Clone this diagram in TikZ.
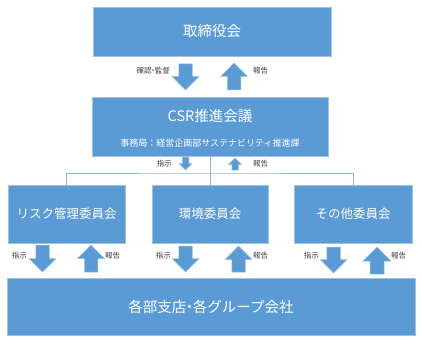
\documentclass[tikz,border=0pt]{standalone}
\usepackage{fontspec}
\setmainfont{Noto Sans CJK JP}
\definecolor{boxblue}{HTML}{5B9BD5}
\definecolor{boxedge}{HTML}{9CC2E5}
\definecolor{connblue}{HTML}{8FB4DE}
\definecolor{lbl}{HTML}{404040}
\tikzset{
  orgbox/.style={rectangle, fill=boxblue, draw=boxedge, line width=0.8pt, inner sep=0pt},
  boxtext/.style={text=white, inner sep=0pt, anchor=center},
  smalllbl/.style={text=lbl, font=\fontsize{7.5}{9}\selectfont, inner sep=0pt},
  blkarrow/.style={fill=boxblue, draw=boxedge, line width=0.5pt},
  conn/.style={draw=connblue, line width=0.7pt}
}
\newcommand{\NDot}{\kern-0.28em・\kern-0.28em}
% #1 x centre, #2 y start (tail), #3 y tip, #4 half width
\newcommand{\ArrDown}[4]{\filldraw[blkarrow] ({#1-#4/2},#2) -- ({#1+#4/2},#2) -- ({#1+#4/2},{#3-#4}) -- ({#1+#4},{#3-#4}) -- (#1,#3) -- ({#1-#4},{#3-#4}) -- ({#1-#4/2},{#3-#4}) -- cycle;}
\newcommand{\ArrUp}[4]{\filldraw[blkarrow] ({#1-#4/2},#2) -- ({#1+#4/2},#2) -- ({#1+#4/2},{#3+#4}) -- ({#1+#4},{#3+#4}) -- (#1,#3) -- ({#1-#4},{#3+#4}) -- ({#1-#4/2},{#3+#4}) -- cycle;}
\begin{document}
\begin{tikzpicture}[x=1pt,y=-1pt]
\useasboundingbox[fill=white] (0,0) rectangle (422,342);
% boxes
\node[orgbox, minimum width=238pt, minimum height=49pt] (board) at (212,31.5) {};
\node[boxtext, font=\fontsize{14.5}{16}\selectfont] (boardt) at (board.center) {取締役会};
\node[orgbox, minimum width=236pt, minimum height=59pt] (csr) at (210,126.5) {};
\node[boxtext, font=\fontsize{14.5}{16}\selectfont] (csrt) at (210,116) {CSR推進会議};
\node[boxtext, font=\fontsize{9}{11}\selectfont] (csrs) at (210,143) {事務局：経営企画部サステナビリティ推進課};
\node[orgbox, minimum width=117pt, minimum height=58pt] (risk) at (66.5,214) {};
\node[boxtext, font=\fontsize{12.5}{14}\selectfont] at (risk.center) {リスク管理委員会};
\node[orgbox, minimum width=116pt, minimum height=58pt] (env) at (210,214) {};
\node[boxtext, font=\fontsize{12.5}{14}\selectfont] at (env.center) {環境委員会};
\node[orgbox, minimum width=118pt, minimum height=58pt] (other) at (353,214) {};
\node[boxtext, font=\fontsize{12.5}{14}\selectfont] at (other.center) {その他委員会};
\node[orgbox, minimum width=408pt, minimum height=57pt] (base) at (211,306.5) {};
\node[boxtext, font=\fontsize{14.5}{16}\selectfont] at (base.center) {各部支店\NDot 各グループ会社};
% connectors
\coordinate (bus) at (210,173);
\draw[conn] (csr.south) -- (env.north);
\draw[conn] (risk.north) |- (bus) -| (other.north);
% arrows board <-> csr
\ArrDown{185.5}{64}{90}{13.5}
\ArrUp{234}{90}{63}{13.5}
\node[smalllbl, anchor=east] at (170,71) {確認\NDot 監督};
\node[smalllbl, anchor=west] at (253,71) {報告};
% small arrows csr -> committees
\ArrDown{185.5}{157}{170}{6.5}
\ArrUp{235}{170}{158}{6.5}
\node[smalllbl, anchor=east] at (172,164) {指示};
\node[smalllbl, anchor=west] at (253,164) {報告};
% committee arrows
\ArrDown{42.5}{245}{272}{13.5}
\ArrUp{91}{272}{245}{13.5}
\node[smalllbl, anchor=east] at (27,256) {指示};
\node[smalllbl, anchor=west] at (105,256) {報告};
\ArrDown{185.5}{246}{272}{13.5}
\ArrUp{238.5}{272}{246}{13.5}
\node[smalllbl, anchor=east] at (171,256) {指示};
\node[smalllbl, anchor=west] at (253,256) {報告};
\ArrDown{333.5}{247}{273}{13.5}
\ArrUp{377}{274}{247}{14}
\node[smalllbl, anchor=east] at (319,256) {指示};
\node[smalllbl, anchor=west] at (391,256) {報告};
\end{tikzpicture}
\end{document}
